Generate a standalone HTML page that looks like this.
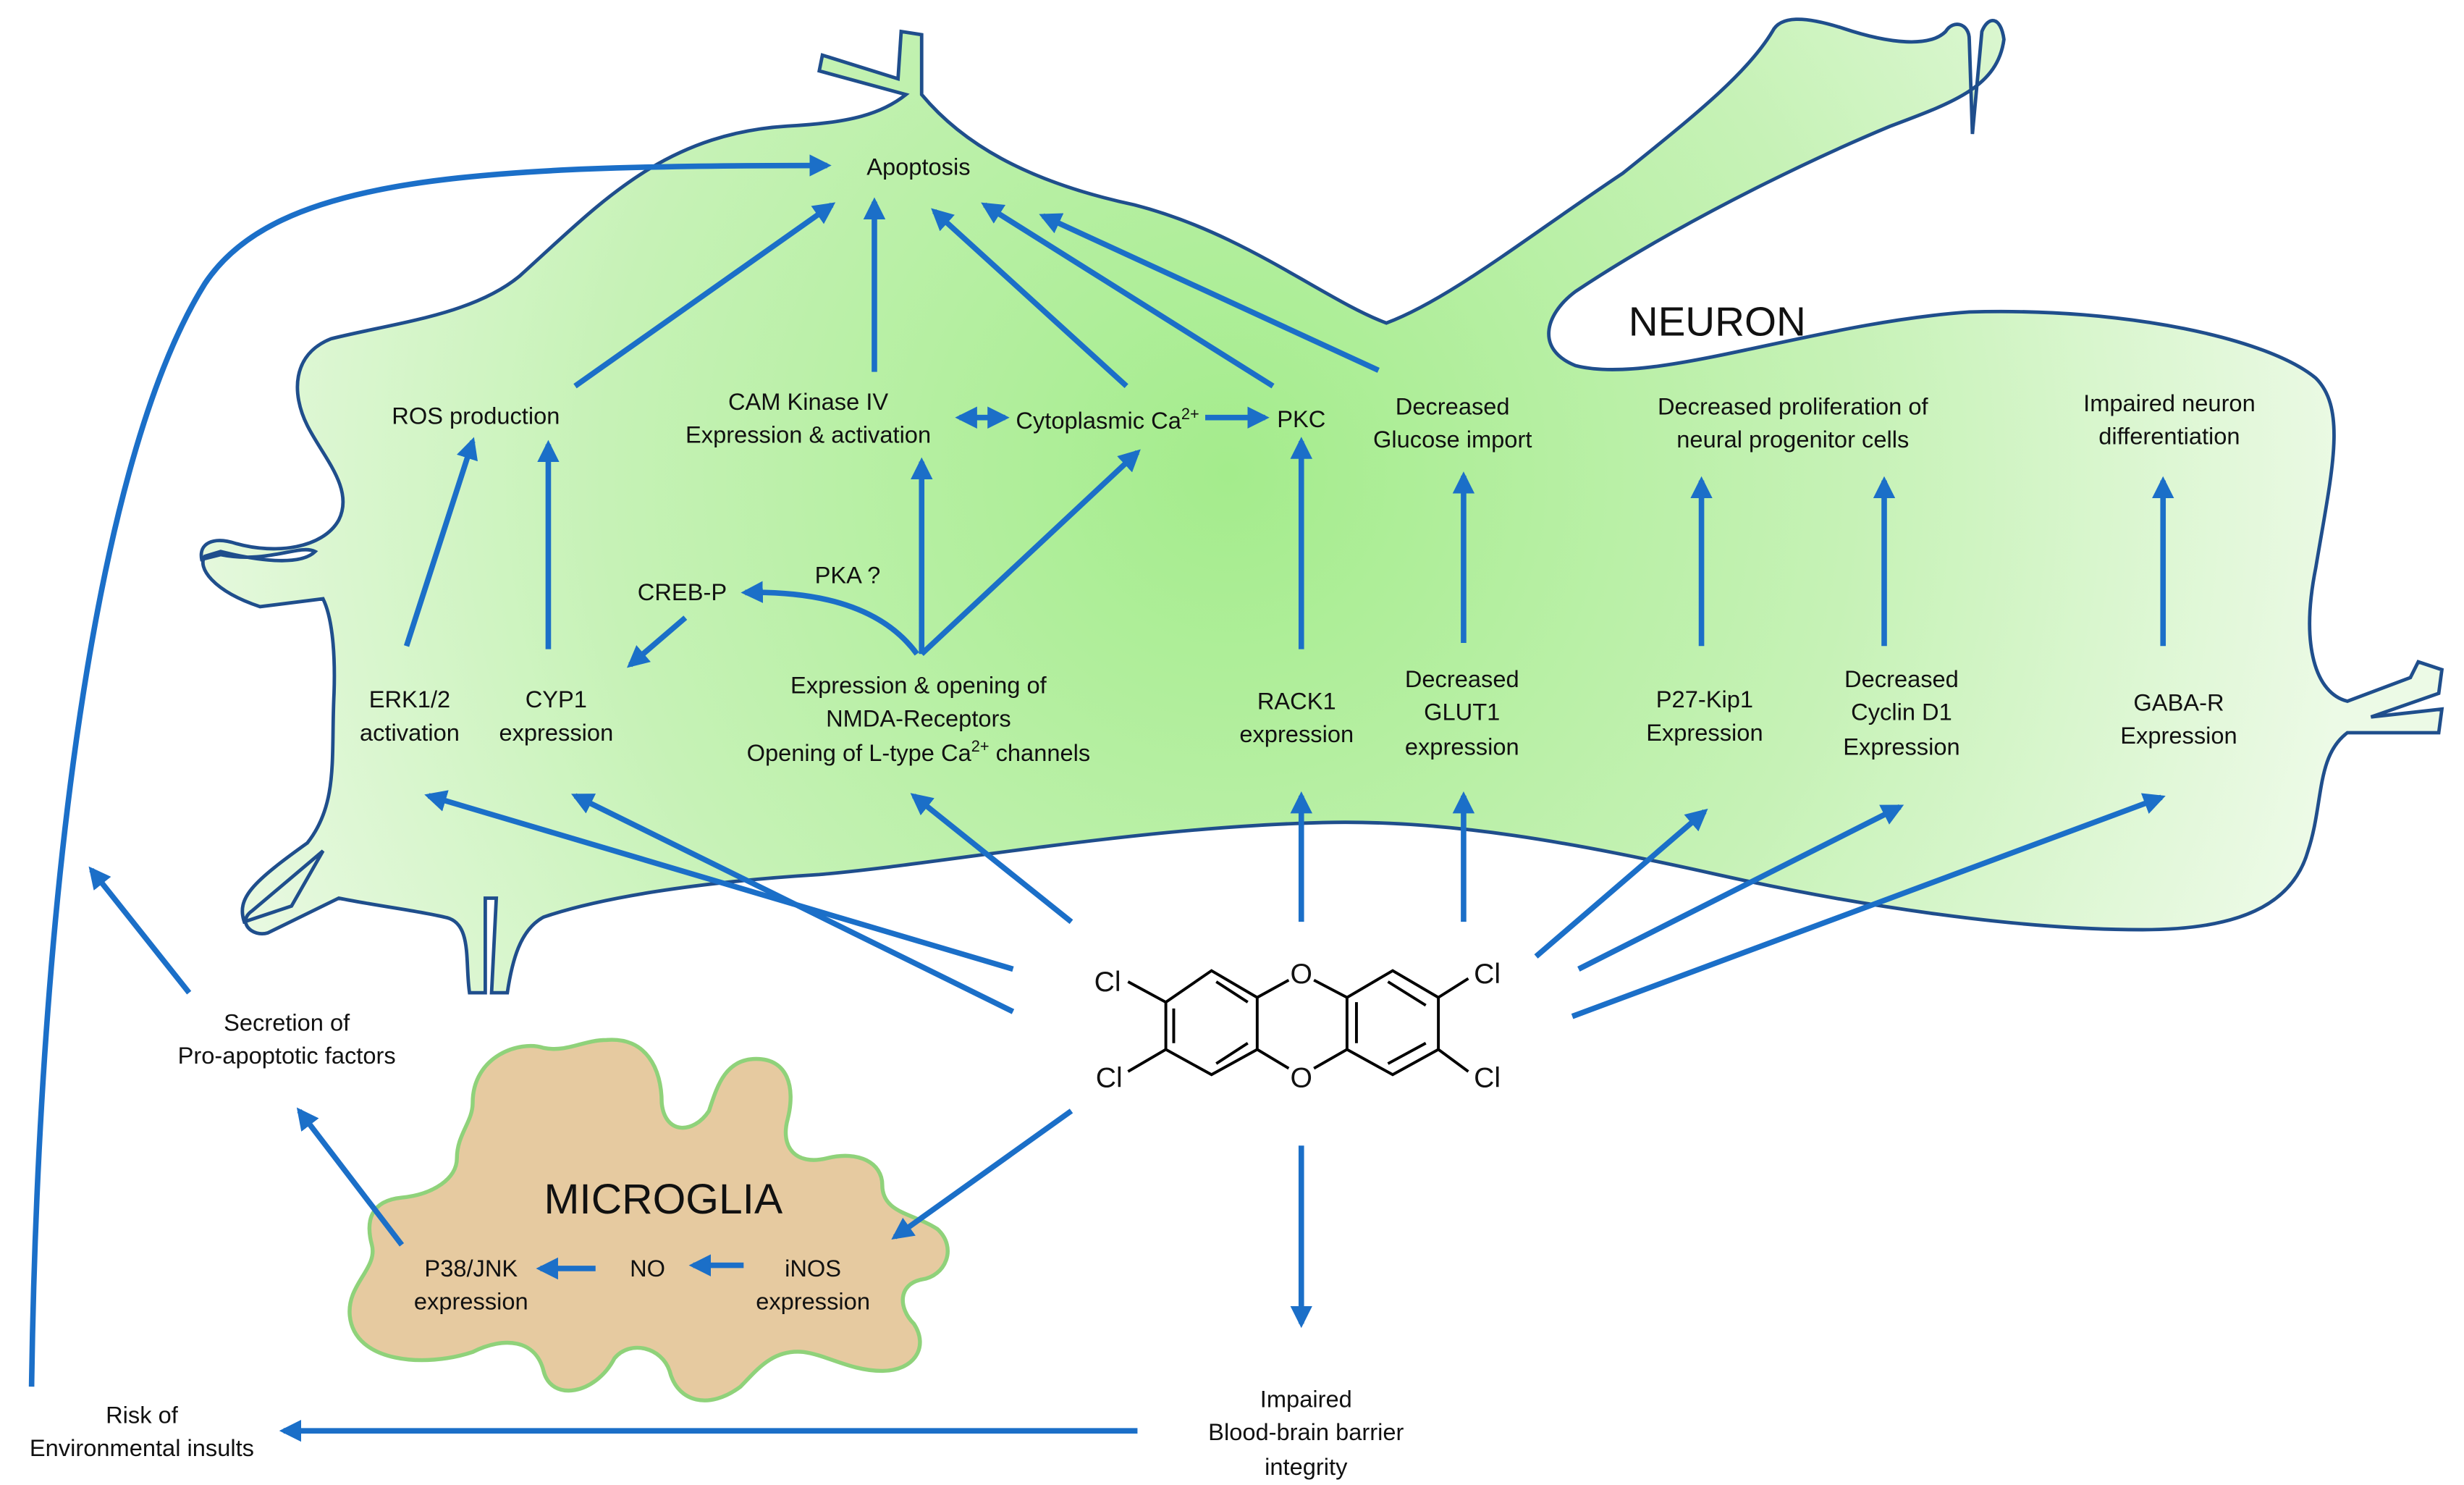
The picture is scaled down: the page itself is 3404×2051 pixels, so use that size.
<!DOCTYPE html>
<html><head><meta charset="utf-8"><style>
html,body{margin:0;padding:0;background:#fff;}
svg{display:block;}
text{font-family:"Liberation Sans",sans-serif;fill:#111;}
</style></head><body>
<svg width="3404" height="2051" viewBox="0 0 1564 942.4" xmlns="http://www.w3.org/2000/svg">
<defs>
<radialGradient id="g" cx="780" cy="300" r="720" gradientUnits="userSpaceOnUse">
<stop offset="0" stop-color="#a4ec8c"/><stop offset="0.55" stop-color="#c6f2b6"/><stop offset="1" stop-color="#ecfae6"/>
</radialGradient>
<marker id="a" viewBox="0 0 10 10" refX="8" refY="5" markerWidth="4" markerHeight="4" orient="auto-start-reverse" markerUnits="strokeWidth">
<path d="M0,0 L10,5 L0,10 z" fill="#1b6fc8"/></marker>
</defs>
<path d="M210,215 C250,205 300,200 330,175 C380,130 420,85 500,80 C540,78 560,72 575,60 L520,45 L522,35 L570,50 L572,20 L585,22 L585,60 C610,90 650,115 720,130 C790,148 840,190 880,205 C920,190 970,150 1030,110 C1080,70 1110,45 1125,20 C1130,10 1145,10 1170,18 C1200,28 1225,30 1235,20 C1240,12 1250,15 1250,25 L1252,85 L1258,20 C1262,10 1270,10 1272,25 C1268,55 1240,65 1200,80 C1140,105 1060,145 1000,185 C980,200 975,222 1000,232 C1050,245 1150,205 1250,198 C1350,195 1440,215 1470,240 C1490,260 1480,300 1470,360 C1460,410 1470,440 1490,445 L1530,430 L1535,420 L1550,425 L1548,440 L1505,455 L1550,450 L1548,465 L1490,465 C1470,480 1475,510 1465,540 C1455,575 1420,590 1360,590 C1280,590 1180,575 1090,555 C1000,535 920,520 840,522 C720,525 600,548 520,555 C440,560 380,570 345,582 C330,590 325,610 322,630 L312,630 L315,570 L308,570 L308,630 L298,630 C295,610 300,585 282,582 C265,578 240,575 215,570 L170,592 C160,595 150,585 160,578 L205,540 L185,575 L155,585 C150,570 160,560 195,535 C215,510 210,480 212,440 C213,410 210,390 205,380 L165,385 C135,375 125,360 130,353 L140,350 C160,355 190,360 200,350 C190,345 170,358 140,352 L128,355 C126,345 135,340 150,345 C175,352 205,348 215,330 C225,310 205,290 195,270 C185,250 185,225 210,215 Z" fill="url(#g)" stroke="#1f4e8c" stroke-width="2.2"/>
<path d="M300,700 C300,670 330,660 345,665 C360,668 370,660 385,660 C410,658 420,678 420,700 C422,720 440,720 450,705 C455,690 460,672 480,672 C500,672 505,690 500,710 C495,728 505,740 525,735 C545,730 560,738 560,752 C560,770 580,770 595,780 C608,792 600,810 585,812 C570,815 570,830 580,840 C590,855 580,870 560,870 C540,870 525,860 510,858 C490,856 480,870 470,880 C450,895 430,890 425,870 C420,855 400,850 390,862 C378,885 350,890 345,870 C340,850 320,848 300,858 C270,868 225,865 222,835 C220,815 240,805 236,790 C232,775 235,762 255,760 C275,758 290,748 290,735 C290,720 300,712 300,700 Z" fill="#e6caa0" stroke="#8fd27a" stroke-width="2.5"/>
<text x="1090" y="213" font-size="26" text-anchor="middle">NEURON</text>
<text x="421" y="770" font-size="27" text-anchor="middle">MICROGLIA</text>
<g font-size="15" text-anchor="middle">
<text x="583" y="111">Apoptosis</text>
<text x="302" y="269">ROS production</text>
<text x="513" y="260">CAM Kinase IV</text>
<text x="513" y="281">Expression &amp; activation</text>
<text x="703" y="272">Cytoplasmic Ca<tspan font-size="10" dy="-6">2+</tspan></text>
<text x="826" y="271">PKC</text>
<text x="922" y="263">Decreased</text>
<text x="922" y="284">Glucose import</text>
<text x="1138" y="263">Decreased proliferation of</text>
<text x="1138" y="284">neural progenitor cells</text>
<text x="1377" y="261">Impaired neuron</text>
<text x="1377" y="282">differentiation</text>
<text x="433" y="381">CREB-P</text>
<text x="538" y="370">PKA ?</text>
<text x="583" y="440">Expression &amp; opening of</text>
<text x="583" y="461">NMDA-Receptors</text>
<text x="583" y="483">Opening of L-type Ca<tspan font-size="10" dy="-6">2+</tspan><tspan dy="6"> channels</tspan></text>
<text x="260" y="449">ERK1/2</text>
<text x="260" y="470">activation</text>
<text x="353" y="449">CYP1</text>
<text x="353" y="470">expression</text>
<text x="823" y="450">RACK1</text>
<text x="823" y="471">expression</text>
<text x="928" y="436">Decreased</text>
<text x="928" y="457">GLUT1</text>
<text x="928" y="479">expression</text>
<text x="1082" y="449">P27-Kip1</text>
<text x="1082" y="470">Expression</text>
<text x="1207" y="436">Decreased</text>
<text x="1207" y="457">Cyclin D1</text>
<text x="1207" y="479">Expression</text>
<text x="1383" y="451">GABA-R</text>
<text x="1383" y="472">Expression</text>
<text x="182" y="654">Secretion of</text>
<text x="182" y="675">Pro-apoptotic factors</text>
<text x="299" y="810">P38/JNK</text>
<text x="299" y="831">expression</text>
<text x="411" y="810">NO</text>
<text x="516" y="810">iNOS</text>
<text x="516" y="831">expression</text>
<text x="829" y="893">Impaired</text>
<text x="829" y="914">Blood-brain barrier</text>
<text x="829" y="936">integrity</text>
<text x="90" y="903">Risk of</text>
<text x="90" y="924">Environmental insults</text>
</g>
<g stroke="#1b6fc8" stroke-width="3.5" fill="none" marker-end="url(#a)">
<path d="M20,880 C24,600 55,300 130,180 C175,112 300,105 525,105"/>
<path d="M365,245 L528,130"/>
<path d="M555,236 L555,128"/>
<path d="M715,245 L593,134"/>
<path d="M808,245 L625,130"/>
<path d="M875,235 L662,137"/>
<path d="M258,410 L300,280"/>
<path d="M348,412 L348,282"/>
<path d="M435,392 L400,422"/>
<path d="M582,415 C560,385 520,375 473,376"/>
<path d="M585,415 L585,293"/>
<path d="M585,415 L722,287"/>
<path d="M609,265 L638,265" marker-start="url(#a)"/>
<path d="M765,265 L803,265"/>
<path d="M826,412 L826,280"/>
<path d="M929,408 L929,302"/>
<path d="M1080,410 L1080,305"/>
<path d="M1196,410 L1196,305"/>
<path d="M1373,410 L1373,305"/>
<path d="M643,615 L272,505"/>
<path d="M643,642 L365,505"/>
<path d="M680,585 L580,505"/>
<path d="M826,585 L826,505"/>
<path d="M929,585 L929,505"/>
<path d="M975,607 L1082,515"/>
<path d="M1002,615 L1206,512"/>
<path d="M998,645 L1372,506"/>
<path d="M680,705 L568,785"/>
<path d="M826,727 L826,840"/>
<path d="M722,908 L180,908"/>
<path d="M120,630 L58,552"/>
<path d="M255,790 L190,705"/>
<path d="M378,805 L343,805"/>
<path d="M472,803 L440,803"/>
</g>
<g stroke="#000" stroke-width="1.8" fill="none">
<path d="M740,636 L769,616 L798,633 L798,666 L769,682 L740,666 Z"/>
<path d="M745,640 L745,662 M772,623 L792,636 M772,675 L792,662"/>
<path d="M855,633 L884,616 L913,633 L913,666 L884,682 L855,666 Z"/>
<path d="M861,636 L861,662 M881,623 L905,638 M881,675 L905,662"/>
<path d="M798,633 L818,622 M834,622 L855,633 M798,666 L818,678 M834,678 L855,666"/>
<path d="M740,636 L716,623 M740,666 L716,680 M913,633 L932,621 M913,666 L932,680"/>
</g>
<g font-size="18" text-anchor="middle">
<text x="826" y="624">O</text>
<text x="826" y="690">O</text>
<text x="703" y="629">Cl</text>
<text x="704" y="690">Cl</text>
<text x="944" y="624">Cl</text>
<text x="944" y="690">Cl</text>
</g>
</svg>
</body></html>
